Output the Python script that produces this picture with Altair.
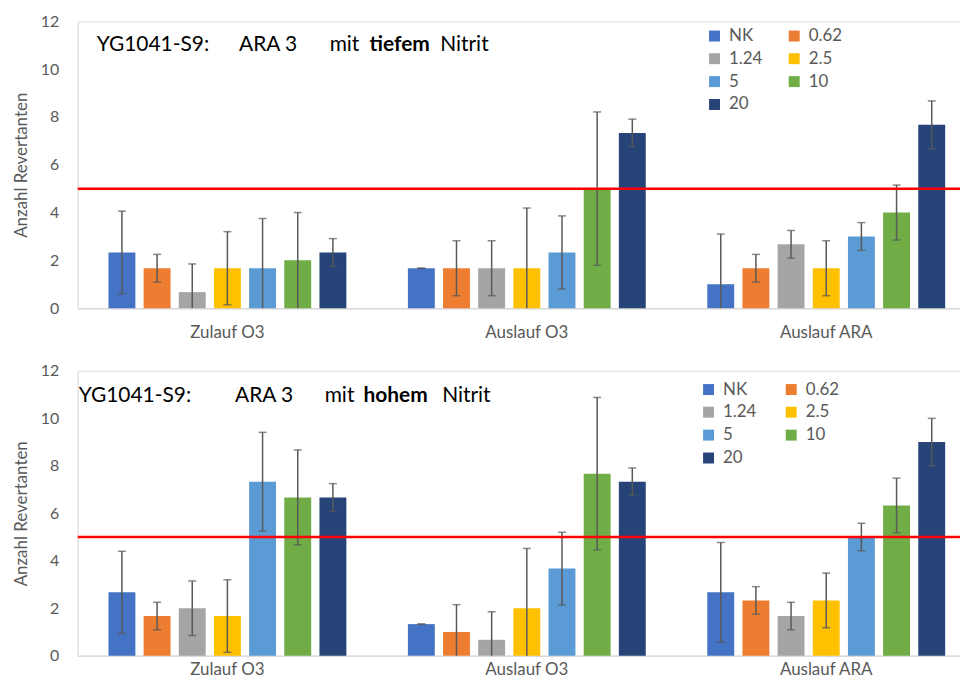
import altair as alt
import pandas as pd

groups = ["Zulauf O3", "Auslauf O3", "Auslauf ARA"]
series = ["NK", "0.62", "1.24", "2.5", "5", "10", "20"]
colors = ["#4472C4", "#ED7D31", "#A5A5A5", "#FFC000", "#5B9BD5", "#70AD47", "#264478"]

# top panel: mit tiefem Nitrit (means per group, in series order)
tief_zulauf_o3 = [2.33, 1.67, 0.67, 1.67, 1.67, 2.0, 2.33]
tief_zulauf_o3_err = [1.73, 0.58, 1.18, 1.53, 2.08, 2.0, 0.58]
tief_auslauf_o3 = [1.67, 1.67, 1.67, 1.67, 2.33, 5.0, 7.33]
tief_auslauf_o3_err = [0.0, 1.15, 1.15, 2.52, 1.53, 3.21, 0.58]
tief_auslauf_ara = [1.0, 1.67, 2.67, 1.67, 3.0, 4.0, 7.67]
tief_auslauf_ara_err = [2.1, 0.58, 0.58, 1.15, 0.58, 1.15, 1.0]

# bottom panel: mit hohem Nitrit
hoch_zulauf_o3 = [2.67, 1.67, 2.0, 1.67, 7.33, 6.67, 6.67]
hoch_zulauf_o3_err = [1.73, 0.58, 1.15, 1.53, 2.08, 2.0, 0.58]
hoch_auslauf_o3 = [1.33, 1.0, 0.67, 2.0, 3.67, 7.67, 7.33]
hoch_auslauf_o3_err = [0.0, 1.15, 1.18, 2.52, 1.53, 3.21, 0.58]
hoch_auslauf_ara = [2.67, 2.33, 1.67, 2.33, 5.0, 6.33, 9.0]
hoch_auslauf_ara_err = [2.1, 0.58, 0.58, 1.15, 0.58, 1.15, 1.0]

threshold = [5]
y_ticks = [0, 2, 4, 6, 8, 10, 12]

FONT = "Lato"
GREY = "#595959"


def make_df(means_list, errs_list):
    rows = []
    for g, means, errs in zip(groups, means_list, errs_list):
        for s, m, e in zip(series, means, errs):
            rows.append({"group": g, "series": s, "mean": m,
                         "lo": max(0.0, m - e), "hi": m + e})
    return pd.DataFrame(rows)


def panel(df, word, height, leg_x, leg_y, col_pad, txt_pos, x_label_pad):
    x_enc = alt.X("group:N", sort=groups, title=None,
                  scale=alt.Scale(paddingInner=0, paddingOuter=0),
                  axis=alt.Axis(labelAngle=0, ticks=False, labelPadding=x_label_pad,
                                labelFontSize=17, labelColor=GREY, labelFont=FONT,
                                domainColor="#d9d9d9", domainWidth=1.5))
    xo = alt.XOffset("series:N", sort=series,
                     scale=alt.Scale(paddingInner=0.235, paddingOuter=0.875))
    y_scale = alt.Scale(domain=[0, 12], nice=False)
    bars = alt.Chart(df).mark_bar().encode(
        x=x_enc, xOffset=xo,
        y=alt.Y("mean:Q", scale=y_scale, title="Anzahl Revertanten",
                axis=alt.Axis(values=y_ticks, grid=False, ticks=False,
                              labelPadding=19, labelFontSize=16, labelColor=GREY,
                              labelFont=FONT, titleFont=FONT, titleFontSize=17,
                              titleFontWeight="normal", titleColor=GREY,
                              titlePadding=10, domainColor="#e3e3e3")),
        color=alt.Color("series:N", sort=series,
                        scale=alt.Scale(domain=series, range=colors),
                        legend=alt.Legend(title=None, orient="none", legendX=leg_x,
                                          legendY=leg_y, columns=2, direction="horizontal",
                                          symbolType="square",
                                          symbolSize=121, symbolStrokeWidth=0,
                                          labelFontSize=17, labelColor=GREY,
                                          labelFont=FONT, labelOffset=6,
                                          columnPadding=col_pad, rowPadding=5, padding=0)),
    )
    err = alt.Chart(df).mark_rule(color=GREY, strokeWidth=1.5).encode(
        x=alt.X("group:N", sort=groups), xOffset=xo,
        y=alt.Y("lo:Q", scale=y_scale), y2="hi:Q")
    cap_hi = alt.Chart(df).mark_tick(color=GREY, size=8, thickness=1.5).encode(
        x=alt.X("group:N", sort=groups), xOffset=xo, y=alt.Y("hi:Q", scale=y_scale))
    cap_lo = alt.Chart(df[df["lo"] > 0]).mark_tick(color=GREY, size=8, thickness=1.5).encode(
        x=alt.X("group:N", sort=groups), xOffset=xo, y=alt.Y("lo:Q", scale=y_scale))
    red = alt.Chart(pd.DataFrame({"t": threshold})).mark_rule(
        color="#FF0000", strokeWidth=2.5).encode(y=alt.Y("t:Q", scale=y_scale))

    texts = []
    pieces = [("YG1041-S9:", "normal"), ("ARA 3", "normal"), ("mit", "normal"),
              (word, "bold"), ("Nitrit", "normal")]
    for (t, w), (px, py) in zip(pieces, txt_pos):
        texts.append(alt.Chart(pd.DataFrame({"t": [t]})).mark_text(
            align="left", baseline="middle", fontSize=21, font=FONT,
            fontWeight=w, color="#000000").encode(
            text="t:N", x=alt.value(px), y=alt.value(py)))

    return alt.layer(bars, err, cap_hi, cap_lo, red, *texts).properties(
        width=902, height=height)


top_df = make_df([tief_zulauf_o3, tief_auslauf_o3, tief_auslauf_ara],
                 [tief_zulauf_o3_err, tief_auslauf_o3_err, tief_auslauf_ara_err])
bot_df = make_df([hoch_zulauf_o3, hoch_auslauf_o3, hoch_auslauf_ara],
                 [hoch_zulauf_o3_err, hoch_auslauf_o3_err, hoch_auslauf_ara_err])

top = panel(top_df, "tiefem", 288, 631, 6, 23,
            [(19, 24), (162, 24), (253, 24), (293, 24), (364, 24)], 16)
bot = panel(bot_df, "hohem", 286, 625, 10, 26,
            [(1, 25), (158, 25), (248, 25), (287, 25), (366, 25)], 6)

chart = alt.vconcat(top, bot, spacing=21).resolve_scale(
    color="independent").resolve_legend(color="independent").properties(
    padding={"left": 3, "top": 3, "right": -18, "bottom": 0}
).configure_view(stroke=None).configure(font=FONT)

chart.save("out.html", embed_options={"renderer": "svg", "actions": False})
